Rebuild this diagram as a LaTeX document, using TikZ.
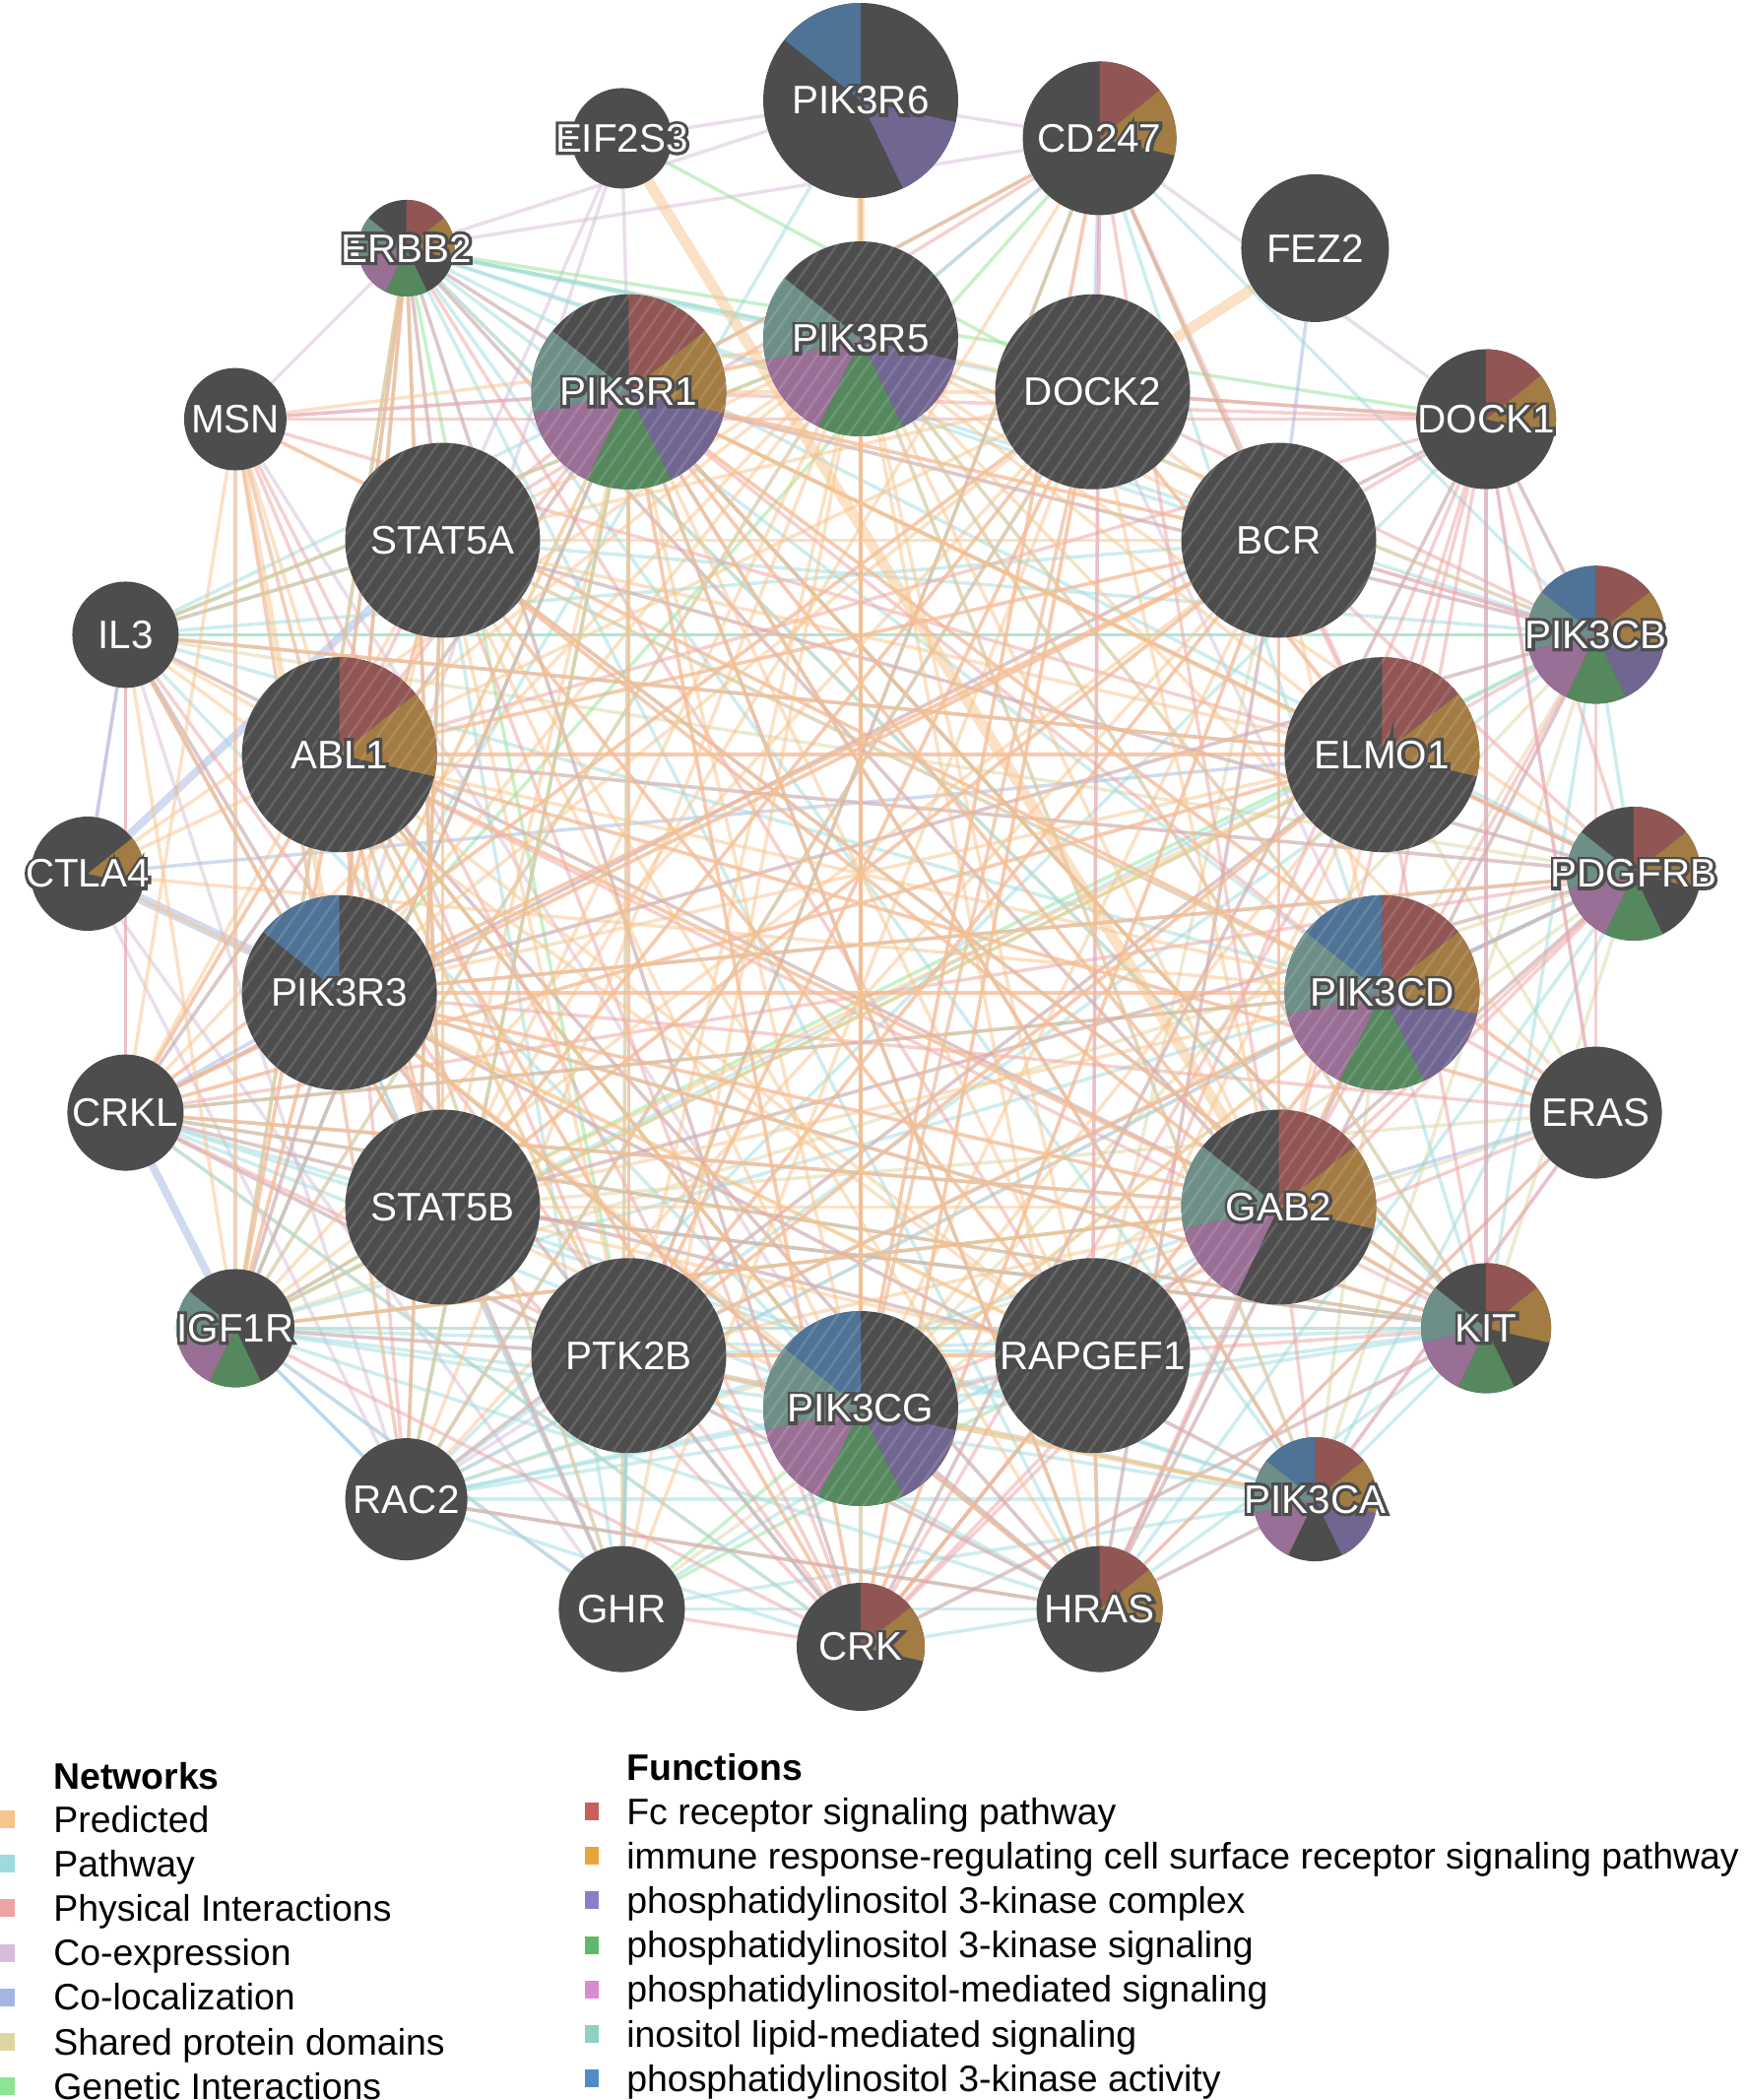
\documentclass[tikz,border=0pt]{standalone}
\usepackage{fontspec}
\setmainfont{Liberation Sans}
\newfontfamily\halofont[FakeBold=15]{Liberation Sans}
\usetikzlibrary{backgrounds,patterns.meta}

% node and slice colours
\definecolor{nodegray}{HTML}{4D4D4D}
\definecolor{lf0}{HTML}{C95E5A}
\definecolor{lf1}{HTML}{E8A33B}
\definecolor{lf2}{HTML}{8E7BC9}
\definecolor{lf3}{HTML}{5DB96C}
\definecolor{lf4}{HTML}{D98BD2}
\definecolor{lf5}{HTML}{8FCFC4}
\definecolor{lf6}{HTML}{4F8CC6}
\colorlet{fc0}{lf0!55!nodegray}
\colorlet{fc1}{lf1!55!nodegray}
\colorlet{fc2}{lf2!55!nodegray}
\colorlet{fc3}{lf3!55!nodegray}
\colorlet{fc4}{lf4!55!nodegray}
\colorlet{fc5}{lf5!50!nodegray}
\colorlet{fc6}{lf6!60!nodegray}
% network colours
\definecolor{cPred}{HTML}{F7C48C}
\definecolor{cPath}{HTML}{9EDBDF}
\definecolor{cPhys}{HTML}{EEA2A2}
\definecolor{cCoex}{HTML}{D7BDDA}
\definecolor{cColoc}{HTML}{A3B6E2}
\definecolor{cShared}{HTML}{DDD6A3}
\definecolor{cGen}{HTML}{8FE492}

\newcommand\genelabel[1]{\makebox[0pt]{\halofont\textcolor{nodegray}{#1}}\makebox[0pt]{#1}}
\newcommand\gene[4][]{\node[gene,#1,minimum size=#4*0.04cm] (#2) at ([shift={(#3)}]ctr) {\genelabel{#2}};}

\begin{document}
\begin{tikzpicture}[x=0.02cm, y=0.02cm,
  gene/.style={circle, fill=nodegray, inner sep=0pt, outer sep=0pt, text=white,
    font=\fontsize{23pt}{23pt}\selectfont},
  fn/.style={path picture={\foreach \k in {#1}
    \fill[fc\k] (path picture bounding box.center) -- +({90-\k*360/7}:5cm)
      -- +({90-(\k+1)*360/7}:5cm) -- cycle;}},
  query/.style={postaction={opacity=0.13,
    pattern={Lines[angle=55, distance=0.24cm, line width=0.05cm]}, pattern color=white}},
  net/.style={line width=0.07cm, draw opacity=0.5},
  pred/.style={net, draw=cPred},
  path/.style={net, draw=cPath},
  phys/.style={net, draw=cPhys},
  coex/.style={net, draw=cCoex},
  coloc/.style={net, draw=cColoc},
  shared/.style={net, draw=cShared},
  genetic/.style={net, draw=cGen},
  thick band/.style={line width=0.22cm},
  legend/.style={font=\fontsize{21.3pt}{24pt}\selectfont, inner sep=0pt, anchor=base west},
  legend head/.style={legend, font=\fontsize{21.3pt}{24pt}\selectfont\bfseries},
]
\useasboundingbox (0,0) rectangle (1772,-2132);
\coordinate (ctr) at (874,-887);

% outer ring
\gene[fn={2,6}]{PIK3R6}{90:785}{99}
\gene[fn={0,1}]{CD247}{72:785}{78}
\gene{FEZ2}{54:785}{75}
\gene[fn={0,1}]{DOCK1}{36:785}{71}
\gene[fn={0,1,2,3,4,5,6}]{PIK3CB}{18:785}{70}
\gene[fn={0,1,3,4,5}]{PDGFRB}{0:785}{68}
\gene{ERAS}{-18:785}{67}
\gene[fn={0,1,3,4,5}]{KIT}{-36:785}{66}
\gene[fn={0,1,2,4,5,6}]{PIK3CA}{-54:785}{63}
\gene[fn={0,1}]{HRAS}{-72:785}{64}
\gene[fn={0,1}]{CRK}{-90:785}{65}
\gene{GHR}{-108:785}{64}
\gene{RAC2}{-126:785}{62}
\gene[fn={3,4,5}]{IGF1R}{-144:785}{60}
\gene{CRKL}{-162:785}{59}
\gene[fn={1}]{CTLA4}{180:785}{58}
\gene{IL3}{162:785}{54}
\gene{MSN}{144:785}{52}
\gene[fn={0,1,3,4,5}]{ERBB2}{126:785}{49}
\gene{EIF2S3}{108:785}{51}

% inner ring of query genes
\gene[query,fn={2,3,4,5}]{PIK3R5}{90:543}{99}
\gene[query]{DOCK2}{64.29:543}{99}
\gene[query]{BCR}{38.57:543}{99}
\gene[query,fn={0,1}]{ELMO1}{12.86:543}{99}
\gene[query,fn={0,1,2,3,4,5,6}]{PIK3CD}{-12.86:543}{99}
\gene[query,fn={0,1,4,5}]{GAB2}{-38.57:543}{99}
\gene[query]{RAPGEF1}{-64.29:543}{99}
\gene[query,fn={2,3,4,5,6}]{PIK3CG}{-90:543}{99}
\gene[query]{PTK2B}{-115.71:543}{99}
\gene[query]{STAT5B}{-141.43:543}{99}
\gene[query,fn={6}]{PIK3R3}{-167.14:543}{99}
\gene[query,fn={0,1}]{ABL1}{167.14:543}{99}
\gene[query]{STAT5A}{141.43:543}{99}
\gene[query,fn={0,1,2,3,4,5}]{PIK3R1}{115.71:543}{99}

\begin{scope}[on background layer]
% co-expression
\foreach \a/\bs in {EIF2S3/{PIK3R1,STAT5A,PIK3R3,PIK3R6}, ERBB2/{CD247,PIK3R6,MSN},
    MSN/{PIK3R1,PIK3CG,STAT5B,IGF1R,RAC2}, IL3/{CRKL,CTLA4,RAC2}, CTLA4/{RAC2,GHR},
    RAC2/{PIK3CD,DOCK2,PTK2B}, CD247/{PIK3R6,PIK3R5,DOCK1,RAPGEF1},
    DOCK2/{PIK3CG,PIK3CD,DOCK1}, GHR/{PIK3R3,IGF1R}, ERAS/{DOCK1,PIK3CA}, BCR/{PIK3CB}}
  \foreach \b in \bs \draw[coex] (\a) -- (\b);
% shared protein domains
\foreach \a/\b in {PIK3CA/PIK3CB, PIK3CA/PIK3CD, PIK3CA/PIK3CG, PIK3CB/PIK3CD, PIK3CB/PIK3CG,
    PIK3CD/PIK3CG, PIK3R1/PIK3R3, STAT5A/STAT5B, DOCK1/DOCK2, CRK/CRKL, HRAS/ERAS, HRAS/RAC2,
    ERAS/RAC2, KIT/PDGFRB, ERBB2/IGF1R, ERBB2/KIT, IGF1R/PDGFRB, KIT/IGF1R, ERAS/ELMO1,
    ABL1/PTK2B, GHR/PDGFRB, RAPGEF1/BCR, ERAS/STAT5B, PDGFRB/IL3}
  \draw[shared] (\a) -- (\b);
% genetic interactions
\foreach \a/\b in {EIF2S3/DOCK2, ERBB2/PIK3R5, CD247/BCR, IL3/PIK3R5, PTK2B/GHR, RAC2/PIK3R1,
    GHR/PIK3CG, KIT/CRKL, PIK3CD/CRKL, IGF1R/STAT5B, IGF1R/PIK3R1, IGF1R/ELMO1, IL3/PIK3CB,
    ERBB2/DOCK1, STAT5B/KIT, GHR/RAPGEF1, PIK3CG/ABL1, CD247/PIK3R3, CD247/PTK2B,
    IGF1R/GAB2, ERBB2/PTK2B, KIT/PIK3R1, PIK3CB/STAT5B}
  \draw[genetic] (\a) -- (\b);
% co-localization
\foreach \a/\b in {FEZ2/BCR, DOCK1/KIT, PTK2B/GHR, IGF1R/RAC2, CTLA4/IL3, IL3/STAT5A,
    CRKL/PIK3R3, DOCK2/CD247, PIK3CD/PDGFRB, GAB2/ERAS, PTK2B/PIK3CG, CTLA4/ELMO1}
  \draw[coloc] (\a) -- (\b);
\draw[coloc, line width=0.2cm] (CTLA4) -- (PIK3R3);
\draw[coloc, line width=0.16cm] (CTLA4) -- (STAT5A);
\draw[coloc, line width=0.16cm] (CRKL) -- (IGF1R);
% pathway
\foreach \a/\bs in {ERBB2/{PIK3R1,PIK3R5,DOCK2,BCR,PIK3CB,PIK3CD,STAT5A,ABL1,PIK3R3,STAT5B,IGF1R,PIK3CA,HRAS,CRK,GAB2,KIT,PDGFRB},
    IL3/{STAT5A,PIK3R1,PIK3R5,BCR,STAT5B,PIK3CD,PIK3CB,GAB2,PIK3R3,ELMO1,PIK3CG},
    KIT/{PIK3CD,PIK3R1,PIK3CA,PIK3CB,GAB2,STAT5A,STAT5B,PIK3R3,PIK3R5,HRAS,CRK,PIK3CG,RAC2,IGF1R,PTK2B},
    PDGFRB/{PIK3R1,PIK3CA,PIK3CB,PIK3CD,HRAS,STAT5A,PIK3R3,ABL1,STAT5B,PTK2B,RAPGEF1},
    IGF1R/{PIK3R1,PIK3CA,PIK3CB,PIK3CD,HRAS,PIK3R3,RAC2,GHR,PIK3R5,PTK2B,PIK3CG,RAPGEF1},
    HRAS/{PIK3CD,PIK3CG,RAPGEF1,RAC2,CRK,GHR,PIK3R1,PIK3R3,PIK3CB,PIK3CA,CRKL,ABL1,BCR,PTK2B},
    PIK3CA/{PIK3R1,PIK3R3,PIK3R5,RAC2,CRKL,GHR,PTK2B,STAT5B},
    RAC2/{PIK3CG,PIK3CD,DOCK2,ELMO1,DOCK1,CRK,PIK3R1,PIK3CB,STAT5A,GAB2,RAPGEF1},
    GHR/{STAT5A,STAT5B,PIK3R1,PIK3R3,PTK2B,ABL1,GAB2}, CRK/{CRKL,DOCK1,RAPGEF1,PTK2B,PIK3CG,PIK3R3},
    CRKL/{DOCK1,RAPGEF1,STAT5B,PIK3R1,GAB2,PIK3CG}, CD247/{PIK3CD,PIK3R1,PIK3CB,PIK3R5},
    PIK3CB/{PIK3R1,PIK3R3,PIK3R5,DOCK1,STAT5A}, PIK3R6/{PIK3CG,PIK3R3}, PIK3CD/{PIK3R5,STAT5A}}
  \foreach \b in \bs \draw[path] (\a) -- (\b);
% physical interactions
\foreach \a/\bs in {CRK/{PIK3R1,DOCK1,DOCK2,ABL1,BCR,GAB2,RAPGEF1,ELMO1,PTK2B,STAT5A,IGF1R,KIT,PDGFRB,ERBB2,MSN,PIK3CD,STAT5B,GHR,IL3},
    CRKL/{ABL1,BCR,GAB2,RAPGEF1,DOCK1,DOCK2,PIK3R1,PTK2B,ELMO1,IL3,PIK3CD,HRAS,PDGFRB,KIT},
    PIK3R1/{ERBB2,KIT,PDGFRB,IGF1R,CD247,GAB2,PIK3CA,PIK3CB,PIK3CD,ABL1,BCR,HRAS,PTK2B,ERAS,MSN,PIK3R5,STAT5A,DOCK1},
    DOCK1/{ELMO1,GAB2,KIT,PDGFRB,ABL1,RAPGEF1,BCR,DOCK2,PIK3CD,ERAS,PIK3CB,MSN},
    GAB2/{KIT,PIK3R3,PDGFRB,CD247,IL3,ERBB2,ABL1,STAT5A,PIK3CA,PIK3CB,PIK3CD,IGF1R,HRAS},
    STAT5A/{KIT,ERBB2,PDGFRB,ABL1,IGF1R,CD247,RAC2}, STAT5B/{KIT,ERBB2,GHR,ABL1,PDGFRB,IGF1R,IL3,BCR},
    ABL1/{BCR,ERBB2,PDGFRB,KIT,PIK3CG,RAC2,ELMO1,IGF1R,HRAS}, BCR/{GAB2,HRAS,PTK2B,PIK3CB,ELMO1,CD247,PDGFRB,PIK3R3},
    HRAS/{PIK3CA,PIK3CB,PIK3CD,PIK3CG,RAPGEF1,ERAS,PIK3R3,RAC2}, ERAS/{PIK3CA,PIK3CD,PIK3CG,PIK3CB,ABL1,PIK3R3},
    PTK2B/{PIK3R3,PDGFRB,RAPGEF1,IGF1R,MSN,ELMO1,CD247,DOCK2}, PIK3CG/{PIK3R6,PIK3R5,CD247,RAPGEF1},
    PIK3R3/{PIK3CD,PIK3CA,PIK3CB,IL3,KIT,ERBB2,PDGFRB,IGF1R}, ELMO1/{PDGFRB,PIK3CB,DOCK2,IL3,KIT,RAC2,CD247},
    RAPGEF1/{KIT,PDGFRB,ERBB2,CD247,STAT5A}, MSN/{PIK3CD,ELMO1}, DOCK2/{PIK3CB,STAT5B}}
  \foreach \b in \bs \draw[phys] (\a) -- (\b);
% predicted
\foreach \a/\bs in {PIK3R5/{ABL1,PIK3R3,STAT5B,PTK2B,RAPGEF1,GAB2,PIK3CD,ELMO1,STAT5A,CRKL,IGF1R,KIT,CRK,HRAS,RAC2,GHR,PIK3CA,ERAS,IL3,MSN,BCR,PIK3R1,DOCK2,CTLA4,PDGFRB,PIK3CB},
    PIK3R1/{DOCK2,BCR,ELMO1,GAB2,RAPGEF1,PIK3CG,PTK2B,STAT5B,PIK3R3,CRK,HRAS,KIT,PIK3CA,ERAS,PDGFRB,GHR,RAC2},
    DOCK2/{ELMO1,BCR,GAB2,PTK2B,STAT5B,ABL1,PIK3R3,STAT5A,CRK,RAC2,IGF1R,CRKL,PIK3CG,GHR},
    STAT5A/{STAT5B,PIK3R3,PTK2B,GAB2,BCR,ELMO1,PIK3CD,RAPGEF1,IL3,CRKL,KIT,HRAS,PIK3CG,IGF1R,RAC2},
    ABL1/{BCR,ELMO1,GAB2,RAPGEF1,PIK3CG,PIK3CD,CRKL,CRK,STAT5B,PTK2B,ERAS,GHR,IL3,CTLA4,MSN,IGF1R},
    PIK3R3/{PIK3CD,PIK3CG,ELMO1,BCR,GAB2,RAPGEF1,KIT,HRAS,ERBB2,PDGFRB},
    BCR/{GAB2,PTK2B,STAT5B,PIK3CG,CRKL,CRK,IGF1R,RAC2,PIK3CD},
    ELMO1/{PTK2B,STAT5B,RAPGEF1,PIK3CG,IGF1R,CRKL,IL3,GAB2},
    PIK3CD/{PTK2B,STAT5B,PIK3CG,GAB2,CTLA4,MSN,RAPGEF1}, GAB2/{PTK2B,STAT5B,RAPGEF1,KIT,CRKL,IGF1R},
    PTK2B/{RAPGEF1,PIK3CG,PIK3CA}, RAPGEF1/{STAT5B,CRK,HRAS,IL3,CTLA4},
    PIK3CG/{PIK3R6,CD247,STAT5B,PIK3CA}, CD247/{STAT5B,PIK3R1}, MSN/{STAT5B,IGF1R,CRKL,RAC2},
    ERBB2/{ABL1,STAT5B,IGF1R}, IL3/{IGF1R,STAT5B}}
  \foreach \b in \bs \draw[pred] (\a) -- (\b);
\draw[pred, thick band] (FEZ2) -- (DOCK2);
\draw[pred, thick band] (EIF2S3) -- (GAB2);
\draw[pred, line width=0.16cm] (PIK3R6) -- (PIK3R5);
\draw[pred, line width=0.12cm] (MSN) -- (PIK3R3);
\end{scope}

% legend: networks
\node[legend head] (netHead) at (54,-1816) {Networks};
\foreach \c/\t [count=\i] in {cPred/Predicted, cPath/Pathway, cPhys/Physical Interactions,
    cCoex/Co-expression, cColoc/Co-localization, cShared/Shared protein domains,
    cGen/Genetic Interactions} {
  \fill[\c] (0,{-1847-45.2*(\i-1)-9}) rectangle +(15,18);
  \node[legend] (net\i) at (54,{-1860-45.2*(\i-1)}) {\t};
}
% legend: functions
\node[legend head] (funHead) at (636,-1807) {Functions};
\foreach \t [count=\i from 0] in {Fc receptor signaling pathway,
    immune response-regulating cell surface receptor signaling pathway,
    phosphatidylinositol 3-kinase complex, phosphatidylinositol 3-kinase signaling,
    phosphatidylinositol-mediated signaling, inositol lipid-mediated signaling,
    phosphatidylinositol 3-kinase activity} {
  \fill[lf\i] (594,{-1839-45.2*\i-9}) rectangle +(14,18);
  \node[legend] (fun\i) at (636,{-1852-45.2*\i}) {\t};
}
\end{tikzpicture}
\end{document}
